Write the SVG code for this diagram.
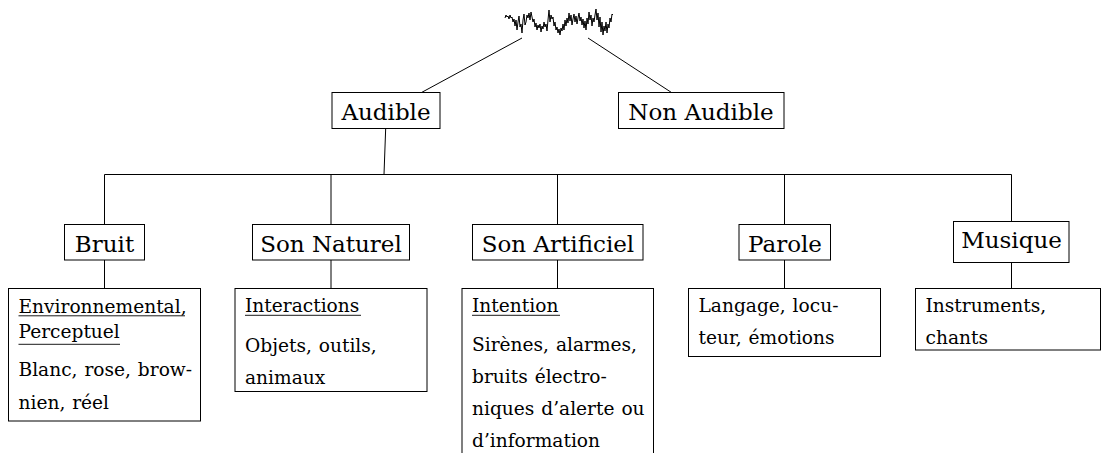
<svg xmlns="http://www.w3.org/2000/svg" width="1102" height="453" viewBox="0 0 1102 453">
<style>
.box{fill:none;stroke:#000;stroke-width:1}
.edge{fill:none;stroke:#000;stroke-width:1}
.ul{stroke:#000;stroke-width:0.9}
.lbl{font-family:"DejaVu Serif","Liberation Serif",serif;font-size:23px;text-anchor:middle;fill:#000}
.txt{font-family:"DejaVu Serif","Liberation Serif",serif;font-size:18.6px;word-spacing:1px;fill:#000}
.wave{fill:none;stroke:#000;stroke-width:1;stroke-linejoin:round}
</style>
<rect x="0" y="0" width="1102" height="453" fill="#fff"/>
<g id="connectors">
<line class="edge" x1="522" y1="38" x2="421.5" y2="92.5"/>
<line class="edge" x1="588" y1="38" x2="671.5" y2="92.5"/>
<line class="edge" x1="385.7" y1="128" x2="384" y2="174.5"/>
<line class="edge" x1="104.5" y1="174.5" x2="1011.5" y2="174.5"/>
<line class="edge" x1="104.5" y1="174.5" x2="104.5" y2="224.5"/>
<line class="edge" x1="331" y1="174.5" x2="331" y2="224.5"/>
<line class="edge" x1="557.5" y1="174.5" x2="557.5" y2="224.5"/>
<line class="edge" x1="784.5" y1="174.5" x2="784.5" y2="224.5"/>
<line class="edge" x1="1011.5" y1="174.5" x2="1011.5" y2="221.5"/>
<line class="edge" x1="104.5" y1="260" x2="104.5" y2="288.5"/>
<line class="edge" x1="331" y1="260" x2="331" y2="288.5"/>
<line class="edge" x1="557.5" y1="260" x2="557.5" y2="288.5"/>
<line class="edge" x1="784.5" y1="260" x2="784.5" y2="288.5"/>
<line class="edge" x1="1011.5" y1="262.5" x2="1011.5" y2="288.5"/>
</g>
<g id="node-signal">
<path class="wave" d="M505,18 L506,15 L507,17 L508,16 L509,19 L510,15 L511,18 L512,17 L513,22 L514,19 L515,26 L516,20 L517,30 L518,22 L519,16 L520,27 L521,24 L522,33 L523,20 L524,14 L525,25 L526,22 L527,15 L528,18 L529,13 L530,20 L531,12 L532,17 L533,22 L534,19 L535,27 L536,23 L537,30 L538,25 L539,28 L540,24 L541,32 L542,26 L543,29 L544,22 L545,27 L546,24 L547,31 L548,20 L549,10 L550,22 L551,15 L552,19 L553,17 L554,26 L555,22 L556,30 L557,27 L558,33 L559,29 L560,35 L561,28 L562,31 L563,24 L564,30 L565,20 L566,26 L567,18 L568,23 L569,13 L570,21 L571,15 L572,25 L573,19 L574,14 L575,22 L576,16 L577,24 L578,18 L579,13 L580,21 L581,17 L582,25 L583,19 L584,28 L585,21 L586,30 L587,18 L588,24 L589,12 L590,20 L591,15 L592,26 L593,18 L594,22 L595,15 L596,9 L597,20 L598,13 L599,27 L600,17 L601,32 L602,22 L603,35 L604,26 L605,31 L606,22 L607,33 L608,24 L609,28 L610,18 L611,22 L612,14 L613,15"/>
</g>
<g id="node-audible">
<rect class="box" x="332" y="92.5" width="108" height="36"/>
<text class="lbl" x="386" y="119.5">Audible</text>
</g>
<g id="node-non-audible">
<rect class="box" x="618.5" y="92.5" width="165.5" height="36"/>
<text class="lbl" x="701" y="119.5">Non Audible</text>
</g>
<g id="node-bruit">
<rect class="box" x="64.5" y="224.5" width="80" height="35.5"/>
<text class="lbl" x="104.5" y="252">Bruit</text>
</g>
<g id="node-son-naturel">
<rect class="box" x="252.5" y="224.5" width="157" height="35.5"/>
<text class="lbl" x="331" y="252">Son Naturel</text>
</g>
<g id="node-son-artificiel">
<rect class="box" x="472.5" y="224.5" width="170.5" height="35.5"/>
<text class="lbl" x="558" y="252">Son Artificiel</text>
</g>
<g id="node-parole">
<rect class="box" x="739" y="224.5" width="91.5" height="35.5"/>
<text class="lbl" x="785" y="252">Parole</text>
</g>
<g id="node-musique">
<rect class="box" x="953.5" y="221.5" width="115.5" height="41"/>
<text class="lbl" x="1011.5" y="248">Musique</text>
</g>
<g id="detail-bruit">
<rect class="box" x="8.5" y="288.5" width="192" height="132.5"/>
<text class="txt" x="18.5" y="312.5">Environnemental,</text>
<line class="ul" x1="18.5" y1="315.8" x2="185" y2="315.8"/>
<text class="txt" x="18.5" y="337.5">Perceptuel</text>
<line class="ul" x1="18.5" y1="344.3" x2="120" y2="344.3"/>
<text class="txt" x="18.5" y="376">Blanc, rose, brow-</text>
<text class="txt" x="18.5" y="408.5">nien, réel</text>
</g>
<g id="detail-son-naturel">
<rect class="box" x="235" y="288.5" width="192" height="103"/>
<text class="txt" x="245" y="312">Interactions</text>
<line class="ul" x1="245" y1="315.3" x2="361" y2="315.3"/>
<text class="txt" x="245" y="351.5">Objets, outils,</text>
<text class="txt" x="245" y="383.5">animaux</text>
</g>
<g id="detail-son-artificiel">
<rect class="box" x="462" y="288.5" width="191.5" height="190"/>
<text class="txt" x="472" y="312">Intention</text>
<line class="ul" x1="472" y1="315.3" x2="560" y2="315.3"/>
<text class="txt" x="472" y="351">Sirènes, alarmes,</text>
<text class="txt" x="472" y="383">bruits électro-</text>
<text class="txt" x="472" y="415">niques d’alerte ou</text>
<text class="txt" x="472" y="447">d’information</text>
</g>
<g id="detail-parole">
<rect class="box" x="688.5" y="288.5" width="192" height="68"/>
<text class="txt" x="698.5" y="312">Langage, locu-</text>
<text class="txt" x="698.5" y="344">teur, émotions</text>
</g>
<g id="detail-musique">
<rect class="box" x="915.5" y="288.5" width="185" height="61.5"/>
<text class="txt" x="925.5" y="312">Instruments,</text>
<text class="txt" x="925.5" y="344">chants</text>
</g>
</svg>
